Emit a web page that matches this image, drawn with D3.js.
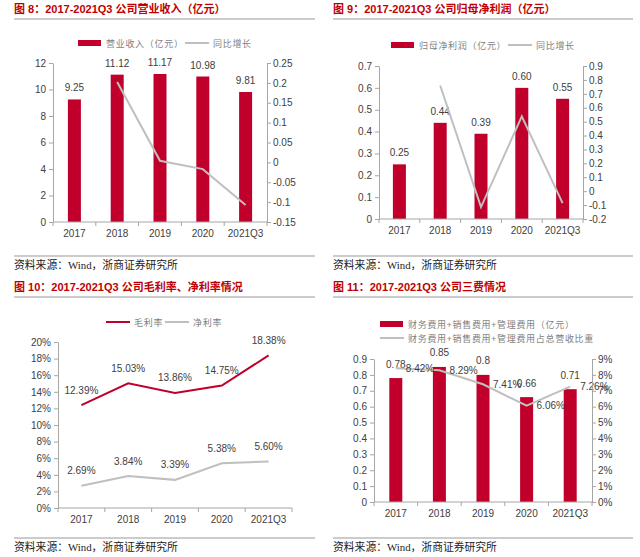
<!DOCTYPE html>
<html>
<head>
<meta charset="utf-8">
<script src="https://cdn.jsdelivr.net/npm/d3@7"></script>
<style>
  body { margin: 0; background: #fff; }
  svg text { font-family: "Liberation Sans", Arial, "Noto Sans CJK SC", sans-serif; }
  .tick text { fill: #404040; font-size: 10px; }
  .axis path, .axis line { stroke: #a6a6a6; }
  .title { fill: #c00000; font-weight: bold; font-size: 11px; }
  .legend { fill: #7f7f7f; font-size: 9px; letter-spacing: 0.7px; font-family: "Noto Sans CJK SC", sans-serif; }
  .source { fill: #222; font-size: 10.8px; font-family: "Liberation Serif", "Noto Sans CJK SC", serif; }
  .lbl { fill: #404040; font-size: 10px; }
</style>
</head>
<body>
<script>
// data
const years = ["2017", "2018", "2019", "2020", "2021Q3"];

const revenue = [9.25, 11.12, 11.17, 10.98, 9.81];
const revenueGrowth = [null, 0.202, 0.004, -0.017, -0.107];

const netProfit = [0.25, 0.44, 0.39, 0.60, 0.55];
const profitGrowth = [null, 0.76, -0.114, 0.538, -0.086];

const grossMargin = [0.1239, 0.1503, 0.1386, 0.1475, 0.1838];
const netMargin = [0.0269, 0.0384, 0.0339, 0.0538, 0.0560];

const expenses = [0.78, 0.85, 0.8, 0.66, 0.71];
const expenseRatio = [0.0842, 0.0829, 0.0741, 0.0606, 0.0726];

const RED = "#c0002b";
const GRAY = "#bfbfbf";

const svg = d3.select("body").append("svg")
    .attr("width", 640)
    .attr("height", 557);

// header / footer decorations for each panel
function frame(x0, x1, titleY, lineY, srcLineY, srcY, title) {
    svg.append("text").attr("class", "title").attr("x", x0).attr("y", titleY).text(title);
    svg.append("line").attr("x1", x0).attr("x2", x1).attr("y1", lineY).attr("y2", lineY)
        .attr("stroke", "#999").attr("stroke-width", 1.2);
    svg.append("line").attr("x1", x0).attr("x2", x1).attr("y1", srcLineY).attr("y2", srcLineY)
        .attr("stroke", "#999").attr("stroke-width", 1.2);
    svg.append("text").attr("class", "source").attr("x", x0).attr("y", srcY)
        .text("资料来源：Wind，浙商证券研究所");
}

function xAxis(x, yBase) {
    const g = svg.append("g").attr("class", "axis");
    g.append("line").attr("x1", x.range()[0]).attr("x2", x.range()[1])
        .attr("y1", yBase).attr("y2", yBase);
    const edges = years.map((d) => x(d)).concat([x.range()[1]]);
    g.selectAll(".edge").data(edges).join("line")
        .attr("x1", (d) => d).attr("x2", (d) => d)
        .attr("y1", yBase).attr("y2", yBase + 4);
    const labels = svg.append("g").attr("class", "axis")
        .attr("transform", `translate(0,${yBase})`)
        .call(d3.axisBottom(x).tickSize(0).tickPadding(8));
    labels.select(".domain").remove();
}

function yAxisLeft(y, xPos, ticks, fmt) {
    svg.append("g").attr("class", "axis")
        .attr("transform", `translate(${xPos},0)`)
        .call(d3.axisLeft(y).tickValues(ticks).tickFormat(fmt).tickSize(4).tickPadding(3).tickSizeOuter(0));
}

function yAxisRight(y, xPos, ticks, fmt) {
    svg.append("g").attr("class", "axis")
        .attr("transform", `translate(${xPos},0)`)
        .call(d3.axisRight(y).tickValues(ticks).tickFormat(fmt).tickSize(4).tickPadding(2).tickSizeOuter(0));
}

function bars(x, y, vals, fmt, lift) {
    const w = 13;
    svg.append("g").selectAll("rect").data(vals).join("rect")
        .attr("x", (d, i) => x(years[i]) + x.bandwidth() / 2 - w / 2)
        .attr("y", (d) => y(d))
        .attr("width", w)
        .attr("height", (d) => y(0) - y(d))
        .attr("fill", RED);
    svg.append("g").selectAll("text").data(vals).join("text")
        .attr("class", "lbl")
        .attr("text-anchor", "middle")
        .attr("x", (d, i) => x(years[i]) + x.bandwidth() / 2)
        .attr("y", (d) => y(d) - lift)
        .text(fmt);
}

function line(x, y, vals, color) {
    const pts = vals.map((v, i) => [years[i], v]).filter((p) => p[1] !== null);
    svg.append("path").datum(pts)
        .attr("fill", "none")
        .attr("stroke", color)
        .attr("stroke-width", 2)
        .attr("d", d3.line()
            .x((p) => x(p[0]) + x.bandwidth() / 2)
            .y((p) => y(p[1])));
}

function legendBar(x, y, label) {
    svg.append("rect").attr("x", x).attr("y", y - 3).attr("width", 23).attr("height", 6).attr("fill", RED);
    svg.append("text").attr("class", "legend").attr("x", x + 28).attr("y", y + 3.5).text(label);
}

function legendLine(x, y, label, color) {
    svg.append("line").attr("x1", x).attr("x2", x + 24).attr("y1", y).attr("y2", y)
        .attr("stroke", color).attr("stroke-width", 2);
    svg.append("text").attr("class", "legend").attr("x", x + 28).attr("y", y + 3.5).text(label);
}

const trim = (d) => String(+d.toFixed(2));

/////////////////////////
// 图 8: revenue
frame(14, 315, 13, 19, 256, 269, "图 8：2017-2021Q3 公司营业收入（亿元）");
{
    const x = d3.scaleBand().domain(years).range([53, 267]);
    const yL = d3.scaleLinear().domain([0, 12]).range([222, 63]);
    const yR = d3.scaleLinear().domain([-0.15, 0.25]).range([222, 63]);
    bars(x, yL, revenue, d3.format(".2f"), 8);
    line(x, yR, revenueGrowth, GRAY);
    xAxis(x, 222);
    yAxisLeft(yL, 53, d3.range(0, 13, 2), (d) => d);
    yAxisRight(yR, 267, d3.range(-0.15, 0.2501, 0.05), trim);
    legendBar(78, 43, "营业收入（亿元）");
    legendLine(185, 43, "同比增长", GRAY);
}

// 图 9: net profit
frame(333, 633, 13, 19, 256, 269, "图 9：2017-2021Q3 公司归母净利润（亿元）");
{
    const x = d3.scaleBand().domain(years).range([379, 583]);
    const yL = d3.scaleLinear().domain([0, 0.7]).range([219, 66]);
    const yR = d3.scaleLinear().domain([-0.2, 0.9]).range([219, 66]);
    bars(x, yL, netProfit, d3.format(".2f"), 8);
    line(x, yR, profitGrowth, GRAY);
    xAxis(x, 219);
    yAxisLeft(yL, 379, d3.range(0, 0.701, 0.1), trim);
    yAxisRight(yR, 583, d3.range(-0.2, 0.901, 0.1), trim);
    legendBar(391, 45, "归母净利润（亿元）");
    legendLine(508, 45, "同比增长", GRAY);
}

// 图 10: margins
frame(14, 315, 291, 297, 538, 551, "图 10：2017-2021Q3 公司毛利率、净利率情况");
{
    const x = d3.scaleBand().domain(years).range([58, 292]);
    const y = d3.scaleLinear().domain([0, 0.2]).range([508, 342]);
    line(x, y, grossMargin, RED);
    line(x, y, netMargin, GRAY);
    const pct = d3.format(".2%");
    [grossMargin, netMargin].forEach((vals) => {
        svg.append("g").selectAll("text").data(vals).join("text")
            .attr("class", "lbl")
            .attr("text-anchor", "middle")
            .attr("x", (d, i) => x(years[i]) + x.bandwidth() / 2)
            .attr("y", (d) => y(d) - 11.5)
            .text(pct);
    });
    xAxis(x, 508);
    yAxisLeft(y, 58, d3.range(0, 0.201, 0.02), d3.format(".0%"));
    legendLine(106, 322, "毛利率", RED);
    legendLine(165, 322, "净利率", GRAY);
}

// 图 11: expenses
frame(333, 633, 291, 297, 538, 551, "图 11：2017-2021Q3 公司三费情况");
{
    const x = d3.scaleBand().domain(years).range([374, 592]);
    const yL = d3.scaleLinear().domain([0, 0.9]).range([502, 359]);
    const yR = d3.scaleLinear().domain([0, 0.09]).range([502, 359]);
    bars(x, yL, expenses, (d) => String(d), 10.5);
    line(x, yR, expenseRatio, GRAY);
    svg.append("g").selectAll("text").data(expenseRatio).join("text")
        .attr("class", "lbl")
        .attr("x", (d, i) => x(years[i]) + x.bandwidth() / 2 + 10)
        .attr("y", (d) => yR(d) + 3.5)
        .text(d3.format(".2%"));
    xAxis(x, 502);
    yAxisLeft(yL, 374, d3.range(0, 0.901, 0.1), trim);
    yAxisRight(yR, 592, d3.range(0, 0.0901, 0.01), d3.format(".0%"));
    legendBar(380, 324, "财务费用+销售费用+管理费用（亿元）");
    legendLine(380, 338, "财务费用+销售费用+管理费用占总营收比重", GRAY);
}
</script>
</body>
</html>
